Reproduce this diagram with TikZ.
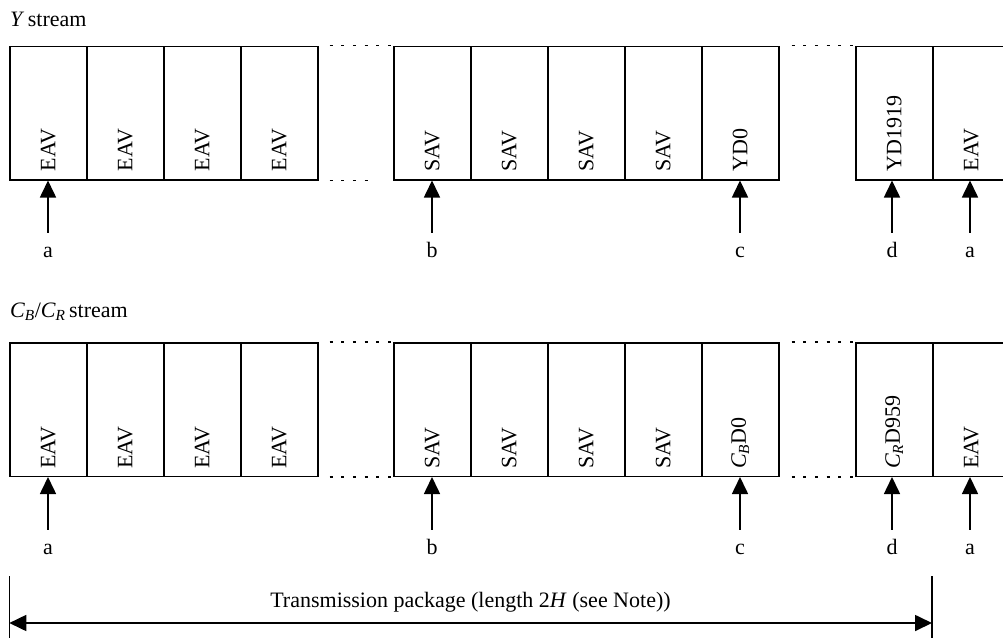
\documentclass[tikz,border=0pt]{standalone}
\usepackage{fontspec}
\setmainfont{Liberation Serif}
\usetikzlibrary{arrows.meta,calc}
\tikzset{
  txt/.style={inner sep=0pt,font=\fontsize{22pt}{26pt}\selectfont},
  cell/.style={draw,line width=1.5pt,minimum width=77pt,minimum height=133.5pt,inner sep=0pt,anchor=north west},
  vtext/.style={txt,rotate=90,anchor=west},
  ptr/.style={txt,anchor=base,text height=24pt},
  arr/.style={line width=1.6pt,-{Triangle[width=16pt,length=17pt]}},
  dotline/.style={line width=1.5pt,dash pattern=on 3pt off 8.7pt},
  tick/.style={line width=1.5pt},
  span/.style={line width=1.7pt,{Triangle[width=16pt,length=17pt]}-{Triangle[width=16pt,length=17pt]}}
}
\newcommand{\csub}[2]{{\itshape #1}\textsubscript{\itshape #2}}
\begin{document}
\begin{tikzpicture}[x=1pt,y=-1pt]
\clip (0,0) rectangle (1003,637);
\fill[white] (0,0) rectangle (1003,637);

% ---------- Y stream ----------
\node[txt,anchor=base west] (ylab) at (10,27) {{\itshape Y} stream};
\foreach \n/\x in {1/9,2/86,3/163,4/240,5/393,6/470,7/547,8/624,9/701,10/855,11/932}
  \node[cell] (y\n) at (\x,45.5) {};
\foreach \n/\t in {1/EAV,2/EAV,3/EAV,4/EAV,5/SAV,6/SAV,7/SAV,8/SAV,9/YD0,10/YD1919,11/EAV}
  \node[vtext] (yt\n) at ([yshift=9pt]y\n.south) {\t};
\draw[dotline] ([xshift=11pt]y4.north east) -- (y5.north west);
\draw[dotline] ([xshift=11pt]y4.south east) -- ([xshift=53pt]y4.south east);
\draw[dotline] ([xshift=12pt]y9.north east) -- (y10.north west);

\node[ptr] (ya1) at (48,257) {a};
\node[ptr] (yb) at (432,257) {b};
\node[ptr] (yc) at (740,257) {c};
\node[ptr] (yd) at (892,257) {d};
\node[ptr] (ya2) at (970,257) {a};
\draw[arr] (ya1.north) -- (ya1.north |- y1.south);
\draw[arr] (yb.north) -- (yb.north |- y5.south);
\draw[arr] (yc.north) -- (yc.north |- y9.south);
\draw[arr] (yd.north) -- (yd.north |- y10.south);
\draw[arr] (ya2.north) -- (ya2.north |- y11.south);

% ---------- CB/CR stream ----------
\node[txt,anchor=base west] (clab) at (10,317) {\csub{C}{B}/\csub{C}{R}\,stream};
\foreach \n/\x in {1/9,2/86,3/163,4/240,5/393,6/470,7/547,8/624,9/701,10/855,11/932}
  \node[cell] (c\n) at (\x,342) {};
\foreach \n/\t in {1/EAV,2/EAV,3/EAV,4/EAV,5/SAV,6/SAV,7/SAV,8/SAV,11/EAV}
  \node[vtext] (ct\n) at ([yshift=8pt]c\n.south) {\t};
\node[vtext] (ct9) at ([yshift=8pt]c9.south) {\csub{C}{B}D0};
\node[vtext] (ct10) at ([yshift=8pt]c10.south) {\csub{C}{R}D959};
\draw[dotline] ([xshift=11pt]c4.north east) -- (c5.north west);
\draw[dotline] ([xshift=11pt]c4.south east) -- (c5.south west);
\draw[dotline] ([xshift=12pt]c9.north east) -- (c10.north west);
\draw[dotline] ([xshift=12pt]c9.south east) -- (c10.south west);

\node[ptr] (ca1) at (48,554) {a};
\node[ptr] (cb) at (432,554) {b};
\node[ptr] (cc) at (740,554) {c};
\node[ptr] (cd) at (892,554) {d};
\node[ptr] (ca2) at (970,554) {a};
\draw[arr] (ca1.north) -- (ca1.north |- c1.south);
\draw[arr] (cb.north) -- (cb.north |- c5.south);
\draw[arr] (cc.north) -- (cc.north |- c9.south);
\draw[arr] (cd.north) -- (cd.north |- c10.south);
\draw[arr] (ca2.north) -- (ca2.north |- c11.south);

% ---------- transmission package ----------
\coordinate (tl) at (9.3,576);
\coordinate (tr) at (932,576);
\draw[tick] (tl) -- ++(0,70);
\draw[tick] (tr) -- ++(0,70);
\coordinate (al) at (9.3,623);
\coordinate (ar) at (932,623);
\draw[span] (al) -- (ar);
\node[txt,anchor=base] (tp) at (470.5,607) {Transmission package (length 2\textit{H} (see Note))};
\end{tikzpicture}
\end{document}
